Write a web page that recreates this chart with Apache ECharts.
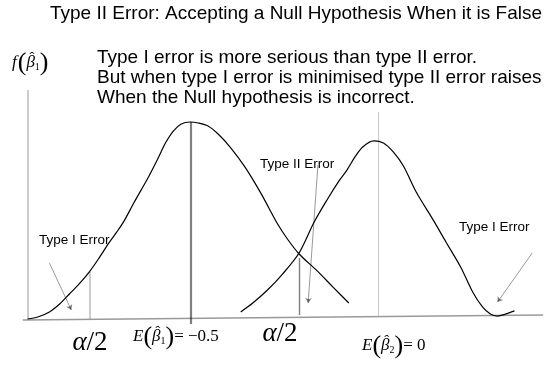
<!DOCTYPE html>
<html>
<head>
<meta charset="utf-8">
<script src="https://cdn.jsdelivr.net/npm/echarts@6/dist/echarts.min.js"></script>
<style>
  html, body { margin: 0; padding: 0; background: #ffffff; }
  #chart { width: 548px; height: 367px; }
</style>
</head>
<body>
<div id="chart"></div>
<script>
// Sampling density of b1-hat when the null hypothesis holds (centred at -0.5)
const nullX = [-0.932, -0.905, -0.874, -0.847, -0.821, -0.795, -0.768, -0.742, -0.716, -0.695,
               -0.676, -0.650, -0.611, -0.584, -0.566, -0.545, -0.524, -0.500, -0.479, -0.453,
               -0.426, -0.392, -0.355, -0.313, -0.268, -0.242, -0.211, -0.163, -0.121, -0.079];
const nullY = [0.000, 0.010, 0.036, 0.076, 0.127, 0.178, 0.239, 0.310, 0.386, 0.442,
               0.497, 0.589, 0.721, 0.822, 0.893, 0.954, 0.990, 1.000, 0.995, 0.980,
               0.939, 0.868, 0.772, 0.640, 0.482, 0.406, 0.330, 0.244, 0.162, 0.081];

// Sampling density of b2-hat around the true value (centred at 0)
const altX = [-0.366, -0.334, -0.295, -0.255, -0.211, -0.171, -0.137, -0.105, -0.084, -0.063,
              -0.042, -0.013, 0.013, 0.039, 0.066, 0.100, 0.145, 0.179, 0.218, 0.250,
              0.276, 0.297, 0.316, 0.337, 0.361];
const altY = [0.036, 0.081, 0.147, 0.228, 0.335, 0.492, 0.604, 0.701, 0.756, 0.822,
              0.873, 0.904, 0.893, 0.848, 0.777, 0.645, 0.503, 0.391, 0.264, 0.137,
              0.061, 0.025, 0.015, 0.025, 0.041];

// Reference values on the beta axis
const nullMean = -0.5;
const trueMean = 0;
const critLow = -0.768;   // lower alpha/2 cut-off
const critHigh = -0.211;  // upper alpha/2 cut-off

// Axis frame: [x, y] end points
const yAxisLine = [[-0.932, 0], [-0.932, 1.162]];
const xAxisLine = [[-0.945, -0.005], [0.437, 0.02]];

// Vertical markers: [x, yBottom, yTop]
const lowCut = [critLow, 0, 0.239];
const highCut = [critHigh, 0.02, 0.310];
const nullCentre = [nullMean, -0.025, 1.0];
const trueCentre = [trueMean, 0.01, 1.051];

// Arrows: [[xFrom, yFrom], [xTo, yTo]]
const arrowTypeILeft = [[-0.874, 0.284], [-0.816, 0.046]];
const arrowTypeII = [[-0.161, 0.782], [-0.187, 0.081]];
const arrowTypeIRight = [[0.408, 0.335], [0.316, 0.086]];

const zip = (xs, ys) => xs.map((x, i) => [x, ys[i]]);
const vSeg = (m) => [[m[0], m[1]], [m[0], m[2]]];

const SANS = '"Liberation Sans", Arial, sans-serif';
const SERIF = '"Liberation Serif", "Times New Roman", serif';

const chart = echarts.init(document.getElementById('chart'), null, { renderer: 'canvas' });

function sansText(x, y, text, size) {
  return {
    type: 'text', x: x, y: y, silent: true,
    style: { text: text, fontFamily: SANS, fontSize: size, fill: '#000', align: 'left', verticalAlign: 'middle' }
  };
}

// Lays out a formula piece by piece so hats and subscripts sit where they belong.
const measureCtx = document.createElement('canvas').getContext('2d');
function pieceFont(p) { return (p.italic ? 'italic ' : '') + p.size + 'px ' + SERIF; }
function mathRow(x, y, pieces, align) {
  const widths = pieces.map(p => {
    if (p.over) return 0;
    measureCtx.font = pieceFont(p);
    return measureCtx.measureText(p.t).width + (p.gap || 0);
  });
  const total = widths.reduce((a, b) => a + b, 0);
  let cx = align === 'center' ? x - total / 2 : x;
  let prevX = cx, prevW = 0;
  const out = [];
  pieces.forEach((p, i) => {
    const base = {
      type: 'text', silent: true,
      style: {
        text: p.t, fontFamily: SERIF, fontSize: p.size, fontStyle: p.italic ? 'italic' : 'normal',
        fill: '#000', verticalAlign: 'middle'
      }
    };
    if (p.over) {
      base.x = prevX + prevW / 2 + (p.dx || 0);
      base.y = y + (p.dy || 0);
      base.style.align = 'center';
    } else {
      base.x = cx + (p.dx || 0);
      base.y = y + (p.dy || 0);
      base.style.align = 'left';
      prevX = cx; prevW = widths[i];
      cx += widths[i];
    }
    out.push(base);
  });
  return out;
}

const fBeta = [
  { t: 'f', size: 17, italic: true, gap: 1 },
  { t: '(', size: 26, dy: 0 },
  { t: 'β', size: 17, italic: true },
  { t: 'ˆ', size: 15, over: true, dx: 1.5, dy: -5 },
  { t: '1', size: 10, dy: 4 },
  { t: ')', size: 26 }
];
const eBeta1 = [
  { t: 'E', size: 17, italic: true },
  { t: '(', size: 26 },
  { t: 'β', size: 17, italic: true },
  { t: 'ˆ', size: 15, over: true, dx: 1.5, dy: -5 },
  { t: '1', size: 10, dy: 4 },
  { t: ')', size: 26 },
  { t: '= −0.5', size: 17 }
];
const eBeta2 = [
  { t: 'E', size: 17, italic: true },
  { t: '(', size: 26 },
  { t: 'β', size: 17, italic: true },
  { t: 'ˆ', size: 15, over: true, dx: 1.5, dy: -5 },
  { t: '2', size: 10, dy: 4 },
  { t: ')', size: 26 },
  { t: '= 0', size: 17 }
];
const alphaHalf = [
  { t: 'α', size: 27, italic: true },
  { t: '/2', size: 27 }
];

const option = {
  animation: false,
  backgroundColor: '#ffffff',
  grid: { left: 2, top: 43.2, width: 551, height: 315.2, containLabel: false },
  xAxis: { type: 'value', min: -1, max: 0.45, show: false },
  yAxis: { type: 'value', min: -0.2, max: 1.4, show: false },
  series: [
    {
      name: 'null', type: 'line', data: zip(nullX, nullY), showSymbol: false, smooth: 0.3,
      clip: false, lineStyle: { color: '#000', width: 1.2 }
    },
    {
      name: 'true', type: 'line', data: zip(altX, altY), showSymbol: false, smooth: 0.3,
      clip: false, lineStyle: { color: '#000', width: 1.2 }
    },
    {
      name: 'frame', type: 'lines', coordinateSystem: 'cartesian2d', symbol: 'none', silent: true,
      data: [
        { coords: yAxisLine, lineStyle: { color: '#7f7f7f', width: 1.6 } },
        { coords: xAxisLine, lineStyle: { color: '#333', width: 1.4 } },
        { coords: vSeg(lowCut), lineStyle: { color: '#7f7f7f', width: 1.6 } },
        { coords: vSeg(highCut), lineStyle: { color: '#000', width: 1.4 } },
        { coords: vSeg(nullCentre), lineStyle: { color: '#000', width: 2.2 } },
        { coords: vSeg(trueCentre), lineStyle: { color: '#999', width: 1 } }
      ]
    },
    {
      name: 'arrows', type: 'lines', coordinateSystem: 'cartesian2d', silent: true,
      symbol: ['none', 'arrow'], symbolSize: 5,
      lineStyle: { color: '#000', width: 0.8 },
      data: [
        { coords: arrowTypeILeft },
        { coords: arrowTypeII },
        { coords: arrowTypeIRight }
      ]
    }
  ],
  graphic: [
    sansText(50, 14, 'Type II Error: Accepting a Null Hypothesis When it is False', 19),
    sansText(97, 58, 'Type I error is more serious than type II error.', 19),
    sansText(97, 78, 'But when type I error is minimised type II error raises', 19),
    sansText(97, 98, 'When the Null hypothesis is incorrect.', 19),
    sansText(39, 240, 'Type I Error', 13.5),
    sansText(260, 164, 'Type II Error', 13.5),
    sansText(459, 227, 'Type I Error', 13.5)
  ].concat(
    mathRow(12, 63, fBeta),
    mathRow(90, 343, alphaHalf, 'center'),
    mathRow(280, 334, alphaHalf, 'center'),
    mathRow(133, 337, eBeta1),
    mathRow(362, 346, eBeta2)
  )
};

chart.setOption(option);
</script>
</body>
</html>
